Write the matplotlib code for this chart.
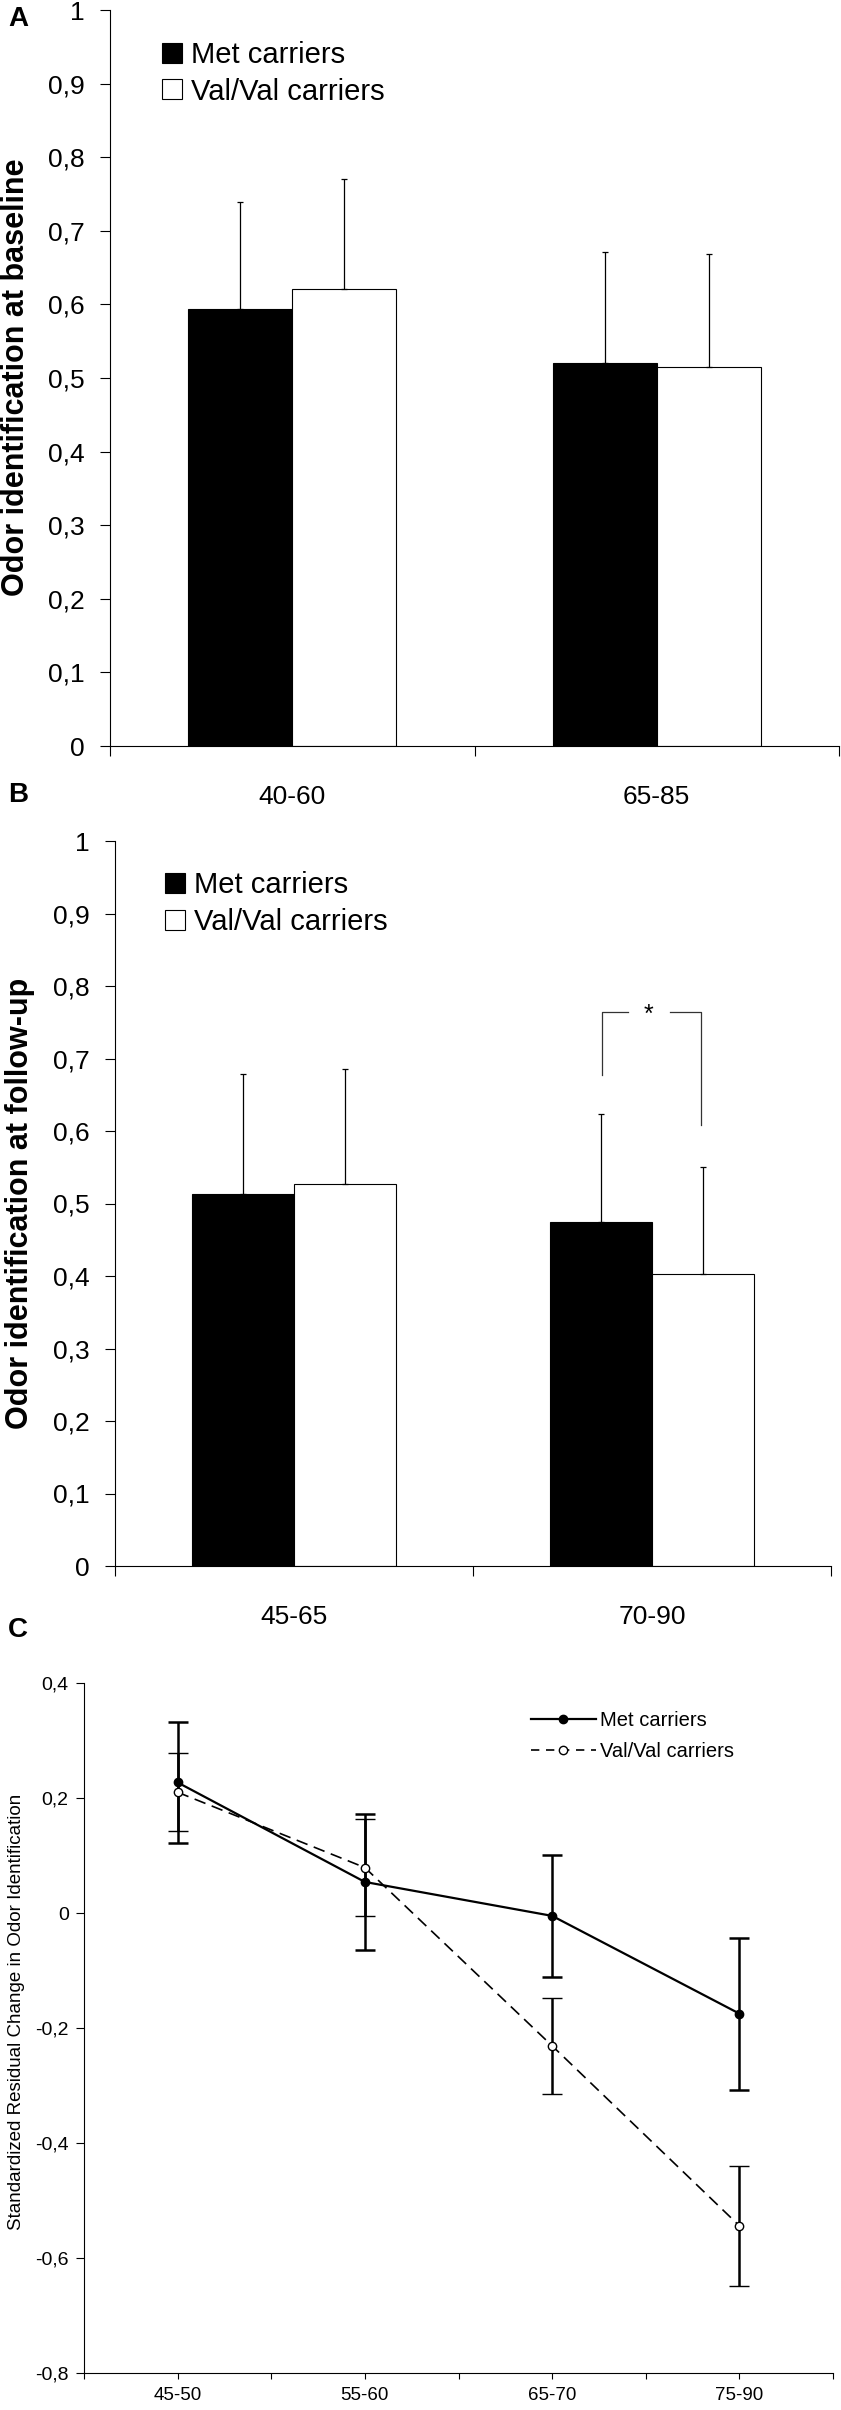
import numpy as np
import matplotlib
matplotlib.use('Agg')
import matplotlib.pyplot as plt
from matplotlib.patches import Patch
from matplotlib.lines import Line2D

plt.rcParams['font.family'] = ['Liberation Sans', 'DejaVu Sans']

# ---- data ----
groups_a = ['40-60', '65-85']
met_a = [0.594, 0.520]
met_a_err = [0.145, 0.151]
val_a = [0.621, 0.515]
val_a_err = [0.149, 0.153]

groups_b = ['45-65', '70-90']
met_b = [0.513, 0.474]
met_b_err = [0.165, 0.150]
val_b = [0.527, 0.403]
val_b_err = [0.158, 0.148]

# significance bracket (panel B, second group)
brk_x = [1.360, 1.637]
brk_top = 0.764
brk_legs = [0.677, 0.608]
brk_gap = [1.432, 1.550]

groups_c = ['45-50', '55-60', '65-70', '75-90']
met_c = [0.227, 0.054, -0.005, -0.175]
met_c_err = [0.105, 0.118, 0.106, 0.132]
val_c = [0.210, 0.079, -0.231, -0.544]
val_c_err = [0.068, 0.085, 0.084, 0.104]

bar_ticks = ['0', '0,1', '0,2', '0,3', '0,4', '0,5', '0,6', '0,7', '0,8', '0,9', '1']
c_ticks = ['-0,8', '-0,6', '-0,4', '-0,2', '0', '0,2', '0,4']

W, H = 841, 2410
fig = plt.figure(figsize=(W / 100, H / 100), dpi=100)
fig.patch.set_facecolor('white')


def box(l, r, t, b):
    return [l / W, 1 - b / H, (r - l) / W, (b - t) / H]


def bar_panel(ax, groups, met, met_err, val, val_err):
    w = 0.285
    cx = np.arange(len(groups)) + 0.5
    ax.bar(cx - w / 2, met, w, color='black', edgecolor='black', linewidth=0.8,
           yerr=[np.zeros(len(met)), met_err], error_kw=dict(ecolor='black', elinewidth=0.9, capsize=2, capthick=0.9))
    ax.bar(cx + w / 2, val, w, color='white', edgecolor='black', linewidth=0.8,
           yerr=[np.zeros(len(val)), val_err], error_kw=dict(ecolor='black', elinewidth=0.9, capsize=2, capthick=0.9))
    ax.set_xlim(0, len(groups))
    ax.set_ylim(0, 1)
    ax.set_xticks(np.arange(len(groups) + 1))
    ax.set_xticklabels([])
    ax.set_xticks(cx, minor=True)
    ax.set_xticklabels(groups, minor=True, fontsize=19)
    ax.tick_params(axis='x', which='minor', length=0, pad=28)
    ax.tick_params(axis='x', which='major', length=7, width=0.8, direction='out')
    ax.set_yticks(np.linspace(0, 1, 11))
    ax.set_yticklabels(bar_ticks, fontsize=19)
    ax.tick_params(axis='y', length=7, width=0.8, direction='out', pad=11)
    for s in ['top', 'right']:
        ax.spines[s].set_visible(False)
    for s in ['left', 'bottom']:
        ax.spines[s].set_linewidth(0.8)
    handles = [Patch(facecolor='black', edgecolor='black', linewidth=0.8),
               Patch(facecolor='white', edgecolor='black', linewidth=0.8)]
    return handles


legend_kw = dict(loc='upper left', frameon=False, fontsize=21, handlelength=0.68, handleheight=0.68,
                 handletextpad=0.3, labelspacing=0.3, borderpad=0, borderaxespad=0)

# ---- panel A ----
axA = fig.add_axes(box(110, 839, 10, 746))
hA = bar_panel(axA, groups_a, met_a, met_a_err, val_a, val_a_err)
axA.legend(hA, ['Met carriers', 'Val/Val carriers'], bbox_to_anchor=(0.072, 0.958), **legend_kw)
fig.text(16 / W, 1 - 377 / H, 'Odor identification at baseline', rotation=90, ha='center', va='center',
         fontsize=22, fontweight='bold')
fig.text(8 / W, 1 - 19 / H, 'A', ha='left', va='center', fontsize=20, fontweight='bold')

# ---- panel B ----
axB = fig.add_axes(box(115, 831, 841, 1566))
hB = bar_panel(axB, groups_b, met_b, met_b_err, val_b, val_b_err)
axB.legend(hB, ['Met carriers', 'Val/Val carriers'], bbox_to_anchor=(0.070, 0.958), **legend_kw)
axB.plot([brk_x[0], brk_x[0], brk_gap[0]], [brk_legs[0], brk_top, brk_top], color='#333333', lw=0.9)
axB.plot([brk_gap[1], brk_x[1], brk_x[1]], [brk_top, brk_top, brk_legs[1]], color='#333333', lw=0.9)
axB.text(np.mean(brk_gap), brk_top - 0.004, '*', ha='center', va='center', fontsize=18)
fig.text(20 / W, 1 - 1203 / H, 'Odor identification at follow-up', rotation=90, ha='center', va='center',
         fontsize=22, fontweight='bold')
fig.text(8 / W, 1 - 795 / H, 'B', ha='left', va='center', fontsize=20, fontweight='bold')

# ---- panel C ----
axC = fig.add_axes(box(84, 833, 1683, 2373))
xc = np.arange(len(groups_c)) + 0.5
axC.errorbar(xc, met_c, yerr=met_c_err, color='black', lw=1.6, marker='o', ms=6,
             mfc='black', mec='black', ecolor='black', elinewidth=1.8, capsize=7, capthick=1.8,
             label='Met carriers')
axC.errorbar(xc, val_c, yerr=val_c_err, color='black', lw=1.2, ls=(0, (7, 4)), marker='o', ms=6,
             mfc='white', mec='black', mew=1.0, ecolor='black', elinewidth=1.8, capsize=7, capthick=1.8,
             label='Val/Val carriers')
axC.set_xlim(0, len(groups_c))
axC.set_ylim(-0.8, 0.4)
axC.set_xticks(np.arange(0, len(groups_c) + 0.01, 0.5))
axC.set_xticklabels(['' if i % 2 == 0 else groups_c[i // 2] for i in range(2 * len(groups_c) + 1)],
                    fontsize=13.5)
axC.tick_params(axis='x', length=4, width=0.8, direction='out', pad=6)
axC.set_yticks(np.linspace(-0.8, 0.4, 7))
axC.set_yticklabels(c_ticks, fontsize=14)
axC.tick_params(axis='y', length=6, width=0.8, direction='out', pad=5)
for s in ['top', 'right']:
    axC.spines[s].set_visible(False)
for s in ['left', 'bottom']:
    axC.spines[s].set_linewidth(0.8)
hC = [Line2D([], [], color='black', lw=1.6, marker='o', ms=6, mfc='black'),
      Line2D([], [], color='black', lw=1.2, ls=(0, (5, 4)), marker='o', ms=6, mfc='white')]
axC.legend(hC, ['Met carriers', 'Val/Val carriers'], loc='upper left', bbox_to_anchor=(0.597, 0.96),
           frameon=False, fontsize=14.5, handlelength=3.2, handletextpad=0.2, labelspacing=0.6,
           borderpad=0, borderaxespad=0)
fig.text(17 / W, 1 - 2012 / H, 'Standardized Residual Change in Odor Identification', rotation=90,
         ha='center', va='center', fontsize=13.5)
fig.text(8 / W, 1 - 1630 / H, 'C', ha='left', va='center', fontsize=20, fontweight='bold')

fig.savefig('out.png', dpi=100, facecolor='white')
